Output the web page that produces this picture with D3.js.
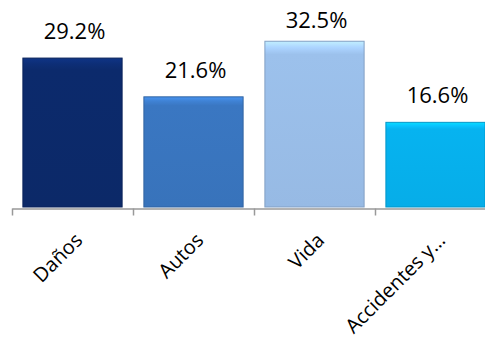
<!DOCTYPE html>
<html><head><meta charset="utf-8">
<script src="https://cdn.jsdelivr.net/npm/d3@7"></script>
<style>body{margin:0;background:#fff}svg{display:block}</style>
</head><body>
<script>
const categories = ["Daños", "Autos", "Vida", "Accidentes y…"];
const values = [29.2, 21.6, 32.5, 16.6];
const valueLabels = ["29.2%", "21.6%", "32.5%", "16.6%"];
const colors = ["#0c2a6c", "#3a77c2", "#9cc1ec", "#06b3f0"];

const W = 485, H = 341;
const svg = d3.select("body").append("svg").attr("width", W).attr("height", H);
const defs = svg.append("defs");

const x = d3.scaleBand().domain(categories).range([12, 496]).paddingInner(0.18).paddingOuter(0.09);
const y = d3.scaleLinear().domain([0, 35]).range([207, 28.5]);

colors.forEach((c, i) => {
  const g = defs.append("linearGradient").attr("id", "g" + i).attr("x1", 0).attr("y1", 0).attr("x2", 0).attr("y2", 1);
  const base = d3.color(c);
  g.append("stop").attr("offset", "0").attr("stop-color", base.brighter(0.6));
  g.append("stop").attr("offset", "0.04").attr("stop-color", base.brighter(0.25));
  g.append("stop").attr("offset", "0.08").attr("stop-color", c);
  g.append("stop").attr("offset", "1").attr("stop-color", base.darker(0.1));
});

const bars = svg.append("g").selectAll("g").data(categories).join("g");
bars.append("rect")
  .attr("x", d => x(d))
  .attr("y", (d, i) => y(values[i]))
  .attr("width", x.bandwidth())
  .attr("height", (d, i) => y(0) - y(values[i]))
  .attr("fill", (d, i) => `url(#g${i})`)
  .attr("stroke", (d, i) => d3.color(colors[i]).darker(0.5))
  .attr("stroke-width", 1);

svg.append("g").selectAll("text").data(categories).join("text")
  .attr("x", d => x(d) + x.bandwidth() / 2 + 2)
  .attr("y", (d, i) => Math.max(y(values[i]) - 19, 28))
  .attr("text-anchor", "middle")
  .attr("font-family", "Open Sans, sans-serif")
  .attr("font-size", 22)
  .attr("fill", "#000")
  .text((d, i) => valueLabels[i]);

const axis = d3.axisBottom(x).tickSize(0).tickFormat(d => d);
const ax = svg.append("g").attr("transform", "translate(0,208.5)").call(axis);
ax.select(".domain").attr("stroke", "#999").attr("stroke-width", 1.5);
const bounds = categories.map(d => x(d) - x.step() * x.paddingInner() / 2);
ax.selectAll(".bt").data(bounds).join("line").attr("class", "bt")
  .attr("x1", d => Math.round(d) + 0.5).attr("x2", d => Math.round(d) + 0.5)
  .attr("y1", 0).attr("y2", 7).attr("stroke", "#999").attr("stroke-width", 1.5);
ax.selectAll(".tick text")
  .attr("font-family", "Open Sans, sans-serif")
  .attr("font-size", 20)
  .attr("fill", "#000")
  .attr("text-anchor", "end")
  .attr("dy", "0")
  .attr("transform", "translate(9,31) rotate(-45)");
</script>
</body></html>
